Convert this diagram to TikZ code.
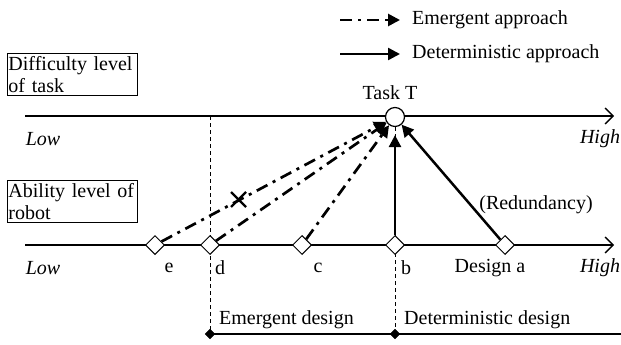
\documentclass[tikz,border=0pt]{standalone}
\usepackage{fontspec}
\setmainfont{Liberation Serif}
\usetikzlibrary{arrows.meta,shapes.geometric}
\begin{document}
\begin{tikzpicture}[x=1pt,y=-1pt,
  every node/.style={font=\fontsize{20}{22}\selectfont},
  itlab/.style={inner sep=1pt,font=\fontsize{20}{22}\selectfont\itshape},
  axis/.style={line width=1.3pt,-{Straight Barb[length=8pt,width=16pt,line width=1.3pt]}},
  guide/.style={line width=0.8pt,dash pattern=on 4pt off 3pt},
  emer/.style={line width=2.7pt,dash pattern=on 12pt off 6pt on 3pt off 6pt,-{Triangle[length=12pt,width=12pt]}},
  deter/.style={line width=2.5pt,-{Triangle[length=12pt,width=12pt]}},
  dia/.style={draw,fill=white,diamond,line width=1pt,minimum size=19pt,inner sep=0pt},
  fdia/.style={draw,fill=black,diamond,minimum size=10pt,inner sep=0pt},
  lbox/.style={draw,line width=1pt,align=left,inner xsep=1pt,inner ysep=3pt,text width=128pt},
  lab/.style={inner sep=1pt}]
\useasboundingbox (0,0) rectangle (621,345);
% legend
\coordinate (l1a) at (340,20); \coordinate (l1b) at (400,20);
\coordinate (l2a) at (340,54); \coordinate (l2b) at (400,54);
\draw[emer] (l1a) -- (l1b);
\draw[deter] (l2a) -- (l2b);
\node[lab,anchor=west] (le) at (411,20) {Emergent approach};
\node[lab,anchor=west] (ld) at (411,54) {Deterministic approach};
% boxes
\node[lbox,anchor=north west] (bd) at (7,53) {Difficulty level\\of task};
\node[lbox,anchor=north west] (ba) at (7,180) {Ability level of\\robot};
% top axis
\coordinate (t0) at (25,116); \coordinate (t1) at (614,116);
\draw[axis] (t0) -- (t1);
\node[draw,circle,fill=white,line width=1.2pt,minimum size=19pt,inner sep=0pt] (T) at (395,117) {};
\node[lab] (TL) at (390,93) {Task T};
\node[itlab] (lowt) at (43,139) {Low};
\node[itlab] (hight) at (600,139) {High};
% bottom axis
\coordinate (b0) at (25,245); \coordinate (b1) at (614,245);
\draw[axis] (b0) -- (b1);
% guide lines
\coordinate (dtop) at (210,116);
\coordinate (dbot) at (210,334);
\coordinate (bbot) at (395,334);
\coordinate (rend) at (621,334);
\draw[guide] (dtop) -- (dbot);
\draw[guide] (T) -- (bbot);
% design line
\draw[line width=2pt] (dbot) -- (rend);
\node[fdia] (fd1) at (dbot) {};
\node[fdia] (fd2) at (bbot) {};
\node[lab,anchor=south west] (em) at (218,330) {Emergent design};
\node[lab,anchor=south west] (de) at (403,330) {Deterministic design};
% diamonds
\node[dia] (e) at (155,245) {};
\node[dia] (d) at (210,245) {};
\node[dia] (c) at (302,245) {};
\node[dia] (b) at (395,245) {};
\node[dia] (a) at (505,245) {};
\node[lab] (le2) at (169,268) {e};
\node[lab] (ld2) at (220,268) {d};
\node[lab] (lc) at (318,268) {c};
\node[lab] (lb) at (406,268) {b};
\node[lab] (la) at (490,268) {Design a};
\node[itlab] (lowb) at (43,268) {Low};
\node[itlab] (highb) at (600,268) {High};
% approach arrows
\draw[emer] (e) -- (T);
\draw[emer] (d) -- (T);
\draw[emer] (c) -- (T);
\draw[deter,shorten >=8pt] (b) -- (T);
\draw[deter] (a) -- (T);
\node[lab] (red) at (536,205) {(Redundancy)};
% cross
\coordinate (x1) at (231,192); \coordinate (x2) at (246,207);
\coordinate (x3) at (246,192); \coordinate (x4) at (231,207);
\draw[line width=2.2pt] (x1) -- (x2);
\draw[line width=2.2pt] (x3) -- (x4);
\end{tikzpicture}
\end{document}
